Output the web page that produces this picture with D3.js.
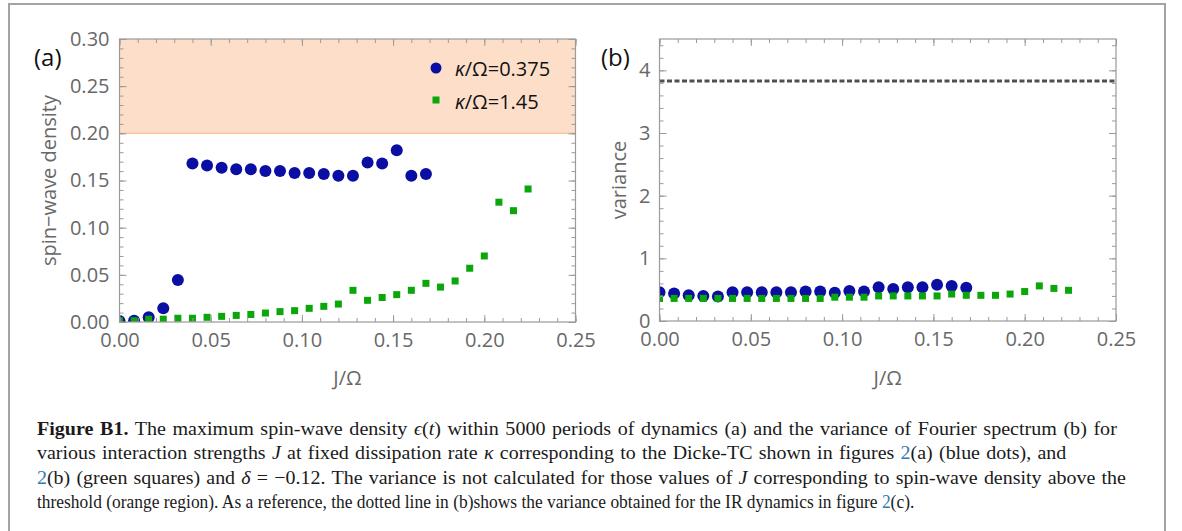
<!DOCTYPE html>
<html>
<head>
<meta charset="utf-8">
<script src="https://cdn.jsdelivr.net/npm/d3@7"></script>
<style>
  body { margin: 0; background: #fff; }
  svg { display: block; }
</style>
</head>
<body>
<script>
// coupling values J/Omega
var jBlue = [0, 0.008, 0.016, 0.024, 0.032, 0.040, 0.048, 0.056, 0.064, 0.072, 0.080,
  0.088, 0.096, 0.104, 0.112, 0.120, 0.128, 0.136, 0.144, 0.152, 0.160, 0.168];
var jGreen = [0, 0.008, 0.016, 0.024, 0.032, 0.040, 0.048, 0.056, 0.064, 0.072, 0.080,
  0.088, 0.096, 0.104, 0.112, 0.120, 0.128, 0.136, 0.144, 0.152, 0.160, 0.168,
  0.176, 0.184, 0.192, 0.200, 0.208, 0.216, 0.224];

// panel (a): maximum spin-wave density
var densityBlue = [0.001, 0.0014, 0.005, 0.0145, 0.0445, 0.168, 0.166, 0.1636, 0.162, 0.162, 0.160,
  0.160, 0.158, 0.158, 0.157, 0.155, 0.155, 0.169, 0.168, 0.182, 0.155, 0.157];
var densityGreen = [0.0014, 0.0014, 0.003, 0.003, 0.004, 0.004, 0.005, 0.006, 0.007, 0.008, 0.0095,
  0.011, 0.012, 0.0145, 0.0166, 0.019, 0.0336, 0.023, 0.026, 0.029, 0.0336, 0.041,
  0.037, 0.0435, 0.057, 0.070, 0.127, 0.118, 0.141];

// panel (b): variance of the Fourier spectrum
var varianceBlue = [0.46, 0.44, 0.41, 0.40, 0.39, 0.46, 0.46, 0.46, 0.46, 0.46, 0.47,
  0.47, 0.45, 0.48, 0.47, 0.54, 0.51, 0.54, 0.54, 0.58, 0.56, 0.53];
var varianceGreen = [0.36, 0.36, 0.36, 0.36, 0.36, 0.36, 0.36, 0.36, 0.36, 0.36, 0.36,
  0.36, 0.38, 0.38, 0.38, 0.40, 0.40, 0.40, 0.40, 0.40, 0.43, 0.41,
  0.41, 0.41, 0.43, 0.47, 0.56, 0.52, 0.49];
var irVariance = 3.83;
var threshold = [0.20, 0.30];

var legendLabels = ["0.375", "1.45"];
var xTicks = [0, 0.05, 0.10, 0.15, 0.20, 0.25];
var yTicksA = [0, 0.05, 0.10, 0.15, 0.20, 0.25, 0.30];
var yTicksB = [0, 1, 2, 3, 4];

var blue = "#0a0ea3";
var green = "#0aa60a";
var frameColor = "#9a9a9a";
var labelColor = "#686868";

var width = 1182, height = 531;
var svg = d3.select("body").append("svg")
  .attr("width", width)
  .attr("height", height);

svg.append("rect")
  .attr("x", 9).attr("y", 4)
  .attr("width", 1156).attr("height", 560)
  .attr("fill", "none")
  .attr("stroke", "#a3a3a3")
  .attr("stroke-width", 2);

function panel(opts) {
  var g = svg.append("g");
  var x = d3.scaleLinear().domain([0, 0.25]).range([opts.left, opts.right]);
  var y = d3.scaleLinear().domain(opts.yDomain).range([opts.bottom, opts.top]);
  var w = opts.right - opts.left, h = opts.bottom - opts.top;

  var clipId = "clip-" + opts.name;
  svg.append("clipPath").attr("id", clipId)
    .append("rect").attr("x", opts.left).attr("y", opts.top)
    .attr("width", w).attr("height", h);

  var plot = g.append("g").attr("clip-path", "url(#" + clipId + ")");
  if (opts.before) opts.before(plot, x, y);

  plot.selectAll("circle")
    .data(d3.zip(jBlue, opts.blue))
    .enter().append("circle")
    .attr("cx", function(d) { return x(d[0]); })
    .attr("cy", function(d) { return y(d[1]); })
    .attr("r", 6)
    .attr("fill", blue);

  plot.selectAll("rect.sq")
    .data(d3.zip(jGreen, opts.green))
    .enter().append("rect")
    .attr("class", "sq")
    .attr("x", function(d) { return x(d[0]) - 3.5; })
    .attr("y", function(d) { return y(d[1]) - 3.5; })
    .attr("width", 7).attr("height", 7)
    .attr("fill", green);

  // frame ticks (inward), major + minor on all four sides
  var xMinor = d3.range(0, 26).map(function(i) { return i / 100; });
  function styleAxis(sel) {
    sel.select(".domain").remove();
    sel.selectAll("line").attr("stroke", frameColor);
    sel.selectAll("text")
      .attr("fill", labelColor)
      .attr("font-family", "'Open Sans', sans-serif")
      .attr("font-size", "20px");
  }
  g.append("g").attr("transform", "translate(0," + opts.bottom + ")")
    .call(d3.axisBottom(x).tickValues(xMinor).tickSize(-4).tickFormat(""))
    .call(styleAxis);
  g.append("g").attr("transform", "translate(0," + opts.bottom + ")")
    .call(d3.axisBottom(x).tickValues(xTicks).tickSize(-7).tickPadding(11)
      .tickFormat(d3.format(".2f")))
    .call(styleAxis);
  g.append("g").attr("transform", "translate(0," + opts.top + ")")
    .call(d3.axisTop(x).tickValues(xMinor).tickSize(-4).tickFormat(""))
    .call(styleAxis);
  g.append("g").attr("transform", "translate(0," + opts.top + ")")
    .call(d3.axisTop(x).tickValues(xTicks).tickSize(-7).tickFormat(""))
    .call(styleAxis);

  g.append("g").attr("transform", "translate(" + opts.left + ",0)")
    .call(d3.axisLeft(y).tickValues(opts.yMinor).tickSize(-4).tickFormat(""))
    .call(styleAxis);
  g.append("g").attr("transform", "translate(" + opts.left + ",0)")
    .call(d3.axisLeft(y).tickValues(opts.yTicks).tickSize(-7).tickPadding(opts.yPad)
      .tickFormat(opts.yFormat))
    .call(styleAxis);
  g.append("g").attr("transform", "translate(" + opts.right + ",0)")
    .call(d3.axisRight(y).tickValues(opts.yMinor).tickSize(-4).tickFormat(""))
    .call(styleAxis);
  g.append("g").attr("transform", "translate(" + opts.right + ",0)")
    .call(d3.axisRight(y).tickValues(opts.yTicks).tickSize(-7).tickFormat(""))
    .call(styleAxis);

  g.append("rect")
    .attr("x", opts.left).attr("y", opts.top)
    .attr("width", w).attr("height", h)
    .attr("fill", "none").attr("stroke", frameColor).attr("stroke-width", 1.2);

  // axis labels
  g.append("text")
    .attr("x", (opts.left + opts.right) / 2).attr("y", 385)
    .attr("text-anchor", "middle")
    .attr("fill", labelColor)
    .attr("font-family", "'Open Sans', sans-serif").attr("font-size", "20px")
    .text("J/\u03A9");
  g.append("text")
    .attr("transform", "translate(" + opts.yLabelX + "," + (opts.top + opts.bottom) / 2 + ") rotate(-90)")
    .attr("text-anchor", "middle")
    .attr("fill", labelColor)
    .attr("font-family", "'Open Sans', sans-serif").attr("font-size", "20px")
    .text(opts.yLabel);

  g.append("text")
    .attr("x", opts.tagX).attr("y", 66)
    .attr("fill", "#111")
    .attr("font-family", "'Open Sans', sans-serif").attr("font-size", "24px")
    .text(opts.tag);

  return {x: x, y: y, g: g};
}

var pa = panel({
  name: "a", left: 119.5, right: 575.5, top: 39, bottom: 322,
  yDomain: [0, 0.30], yTicks: yTicksA,
  yMinor: d3.range(0, 31).map(function(i) { return i / 100; }),
  yFormat: d3.format(".2f"), yPad: 10,
  blue: densityBlue, green: densityGreen,
  yLabel: "spin\u2212wave density", yLabelX: 56,
  tag: "(a)", tagX: 34,
  before: function(plot, x, y) {
    plot.append("rect")
      .attr("x", x(0)).attr("y", y(threshold[1]))
      .attr("width", x(0.25) - x(0))
      .attr("height", y(threshold[0]) - y(threshold[1]))
      .attr("fill", "#fddfc9");
    plot.append("line")
      .attr("x1", x(0)).attr("x2", x(0.25))
      .attr("y1", y(threshold[0])).attr("y2", y(threshold[0]))
      .attr("stroke", "#f9c7a2").attr("stroke-width", 1.5);
  }
});

var pb = panel({
  name: "b", left: 659.5, right: 1116, top: 39, bottom: 321,
  yDomain: [0, 4.5], yTicks: yTicksB,
  yMinor: d3.range(0, 23).map(function(i) { return i / 5; }),
  yFormat: d3.format("d"), yPad: 9,
  blue: varianceBlue, green: varianceGreen,
  yLabel: "variance", yLabelX: 626,
  tag: "(b)", tagX: 601,
  before: function(plot, x, y) {
    plot.append("line")
      .attr("x1", x(0)).attr("x2", x(0.25))
      .attr("y1", y(irVariance)).attr("y2", y(irVariance))
      .attr("stroke", "#505050").attr("stroke-width", 3)
      .attr("stroke-dasharray", "5,2.5");
  }
});

// legend in panel (a)
var legend = pa.g.append("g");
legend.append("circle").attr("cx", 436).attr("cy", 68).attr("r", 5.5).attr("fill", blue);
legend.append("rect").attr("x", 432.5).attr("y", 96.5).attr("width", 7).attr("height", 7).attr("fill", green);
legendLabels.forEach(function(lab, i) {
  var t = legend.append("text")
    .attr("x", 455).attr("y", 76 + i * 33)
    .attr("fill", "#111")
    .attr("font-family", "'Open Sans', sans-serif").attr("font-size", "20px");
  t.append("tspan").attr("font-style", "italic").text("\u03BA");
  t.append("tspan").text("/\u03A9=" + lab);
});

// caption: each line fitted to its measured extent (half by word gaps, half by glyph width)
var linkColor = "#2b7bb9";
var captionLines = [
  [["Figure B1.", "b"], [" The maximum spin-wave density "], ["\u03F5", "i"], ["("], ["t", "i"],
   [") within 5000 periods of dynamics (a) and the variance of Fourier spectrum (b) for"]],
  [["various interaction strengths "], ["J", "i"], [" at fixed dissipation rate "], ["\u03BA", "i"],
   [" corresponding to the Dicke-TC shown in figures "], ["2", "l"], ["(a) (blue dots), and"]],
  [["2", "l"], ["(b) (green squares) and "], ["\u03B4", "i"], [" = \u22120.12. The variance is not calculated for those values of "],
   ["J", "i"], [" corresponding to spin-wave density above the"]],
  [["threshold (orange region). As a reference, the dotted line in (b)shows the variance obtained for the IR dynamics in figure "],
   ["2", "l"], ["(c)."]]
];
var captionLeft = 37;
var captionRight = [1118, 1067, 1127, 915];
var captionSize = 19.5;

captionLines.forEach(function(parts, i) {
  var row = svg.append("g");
  var t = row.append("text")
    .attr("x", 0).attr("y", 435 + i * 24.5)
    .attr("fill", "#1a1a1a")
    .attr("font-family", "'Liberation Serif', serif")
    .attr("font-size", captionSize + "px");
  parts.forEach(function(p) {
    var s = t.append("tspan").text(p[0]);
    if (p[1] === "b") s.attr("font-weight", "bold");
    if (p[1] === "i") s.attr("font-style", "italic");
    if (p[1] === "l") s.attr("fill", linkColor);
  });
  var target = captionRight[i] - captionLeft;
  var len = t.node().getComputedTextLength();
  var spaces = t.text().split(" ").length - 1;
  if (len < target && spaces > 0) {
    t.style("word-spacing", (0.5 * (target - len) / spaces) + "px");
    len = t.node().getComputedTextLength();
  }
  row.attr("transform", "translate(" + captionLeft + ",0) scale(" + (target / len) + ",1)");
});
</script>
</body>
</html>
